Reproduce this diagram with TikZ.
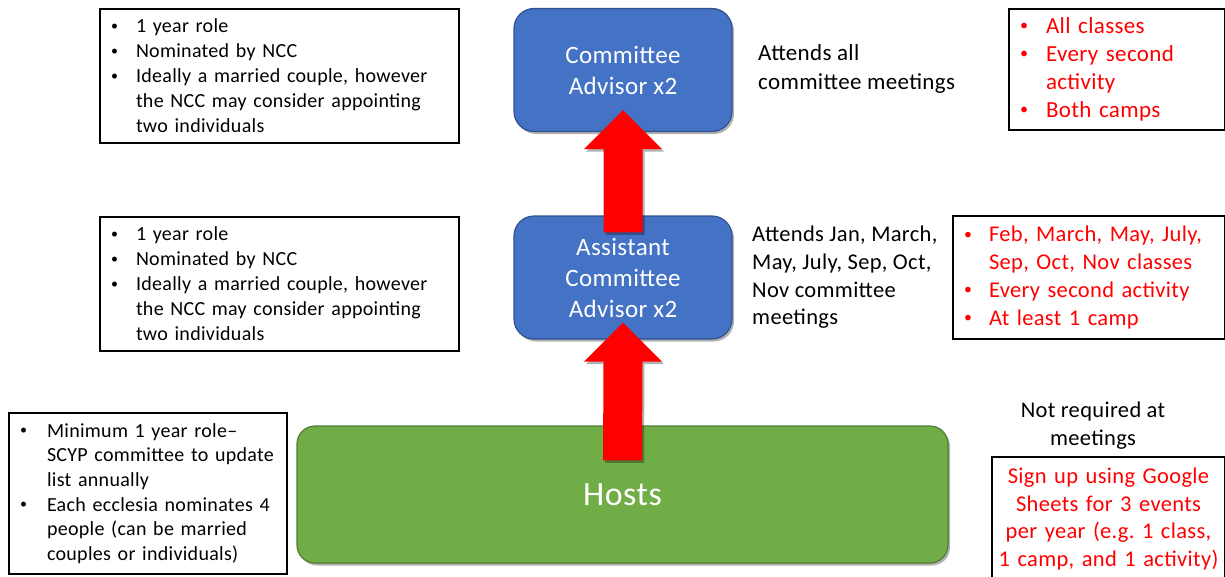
\documentclass[tikz,border=0pt]{standalone}
\usepackage{fontspec}
\setmainfont[LetterSpace=1.5]{Carlito}
\usetikzlibrary{calc,shadows}
\definecolor{boxblue}{HTML}{4472C4}
\definecolor{boxblueline}{HTML}{2F528F}
\definecolor{boxgreen}{HTML}{70AD47}
\definecolor{boxgreenline}{HTML}{507E32}
\definecolor{redtxt}{HTML}{FF0000}
\frenchspacing
\newlength\bulw
\setlength\bulw{25pt}
\newcommand\bitem[1]{\makebox[\bulw][l]{\raisebox{0.12em}{\scalebox{0.7}{\textbullet}}}#1}
\newcommand\bcont[1]{\hspace*{\bulw}#1}
\newcommand\bigup[2]{%
  \fill[arrowfill] ($(#1)+(-19.5,0)$) -- ($(#2)+(-19.5,39)$) -- ($(#2)+(-39,39)$) -- (#2)
    -- ($(#2)+(39,39)$) -- ($(#2)+(19.5,39)$) -- ($(#1)+(19.5,0)$) -- cycle;}
\begin{document}
\begin{tikzpicture}[x=1pt,y=-1pt,
  softshadow/.style={drop shadow={shadow xshift=2pt,shadow yshift=-2.5pt,opacity=0.3,fill=black}},
  rolebox/.style={draw=boxblueline,line width=1.2pt,fill=boxblue,rounded corners=20pt,
    minimum width=218pt,minimum height=123pt,text=white,align=center,
    font=\fontsize{25}{31}\selectfont,softshadow},
  hostbox/.style={draw=boxgreenline,line width=1.2pt,fill=boxgreen,rounded corners=18pt,
    minimum width=651pt,minimum height=137pt,text=white,
    font=\fontsize{34}{40}\selectfont,softshadow},
  infobox/.style={draw=black,line width=1.1pt,fill=white,align=left,inner xsep=11pt,inner ysep=0pt},
  note/.style={align=left,inner sep=0pt,text=black},
  arrowfill/.style={fill=redtxt,softshadow}]
\useasboundingbox (0,0) rectangle (1225,576);

% role nodes
\node[rolebox] (ca) at (623,70) {Committee\\Advisor x2};
\node[rolebox] (aca) at (623,277.5) {Assistant\\Committee\\Advisor x2};
\node[hostbox] (hosts) at (622.5,494.5) {Hosts};

% arrows
\coordinate (t1) at ($(aca.north)+(0,17)$);
\coordinate (h1) at ($(ca.south)+(0,-22)$);
\coordinate (t2) at ($(hosts.north)+(0,35)$);
\coordinate (h2) at ($(aca.south)+(0,-17)$);
\bigup{t1}{h1}
\bigup{t2}{h2}

% left boxes
\node[infobox,minimum width=359pt,minimum height=134pt,text width=337pt,
  font=\fontsize{20}{25}\selectfont] (tl) at (279.5,76) {%
\bitem{1 year role}\\
\bitem{Nominated by NCC}\\
\bitem{Ideally a married couple, however}\\
\bcont{the NCC may consider appointing}\\
\bcont{two individuals}};
\node[infobox,minimum width=359pt,minimum height=134pt,text width=337pt,
  font=\fontsize{20}{25}\selectfont] (ml) at (279.5,284) {%
\bitem{1 year role}\\
\bitem{Nominated by NCC}\\
\bitem{Ideally a married couple, however}\\
\bcont{the NCC may consider appointing}\\
\bcont{two individuals}};
\node[infobox,minimum width=278pt,minimum height=161pt,text width=256pt,
  font=\fontsize{20}{24.6}\selectfont] (bl) at (148,493.5) {%
\setlength\bulw{27pt}%
\bitem{Minimum 1 year role--}\\
\bcont{SCYP committee to update}\\
\bcont{list annually}\\
\bitem{Each ecclesia nominates 4}\\
\bcont{people (can be married}\\
\bcont{couples or individuals)}};

% right boxes
\node[infobox,minimum width=216pt,minimum height=121pt,text width=194pt,text=redtxt,
  font=\fontsize{23}{28}\selectfont] (tr) at (1117,69.5) {%
\setlength\bulw{26pt}%
\bitem{All classes}\\
\bitem{Every second}\\
\bcont{activity}\\
\bitem{Both camps}};
\node[infobox,minimum width=272pt,minimum height=123pt,text width=250pt,text=redtxt,
  font=\fontsize{22.5}{27.7}\selectfont] (mr) at (1089,277.5) {%
\bitem{Feb, March, May, July,}\\
\bcont{Sep, Oct, Nov classes}\\
\bitem{Every second activity}\\
\bitem{At least 1 camp}};
\node[infobox,align=center,inner xsep=2pt,minimum width=233pt,minimum height=124pt,text width=229pt,text=redtxt,
  font=\fontsize{22.5}{27.7}\selectfont] (br) at (1108.5,519) {%
Sign up using Google\\
Sheets for 3 events\\
per year (e.g. 1 class,\\
1 camp, and 1 activity)};

% attendance notes
\node[note,anchor=west,font=\fontsize{23}{29}\selectfont] (n1) at (758,68.5) {Attends all\\committee meetings};
\node[note,anchor=west,font=\fontsize{22.5}{27.7}\selectfont] (n2) at (752,277.5) {Attends Jan, March,\\May, July, Sep, Oct,\\Nov committee\\meetings};
\node[note,align=center,font=\fontsize{22.5}{28}\selectfont] (n3) at (1093,426) {Not required at\\meetings};
\end{tikzpicture}
\end{document}
